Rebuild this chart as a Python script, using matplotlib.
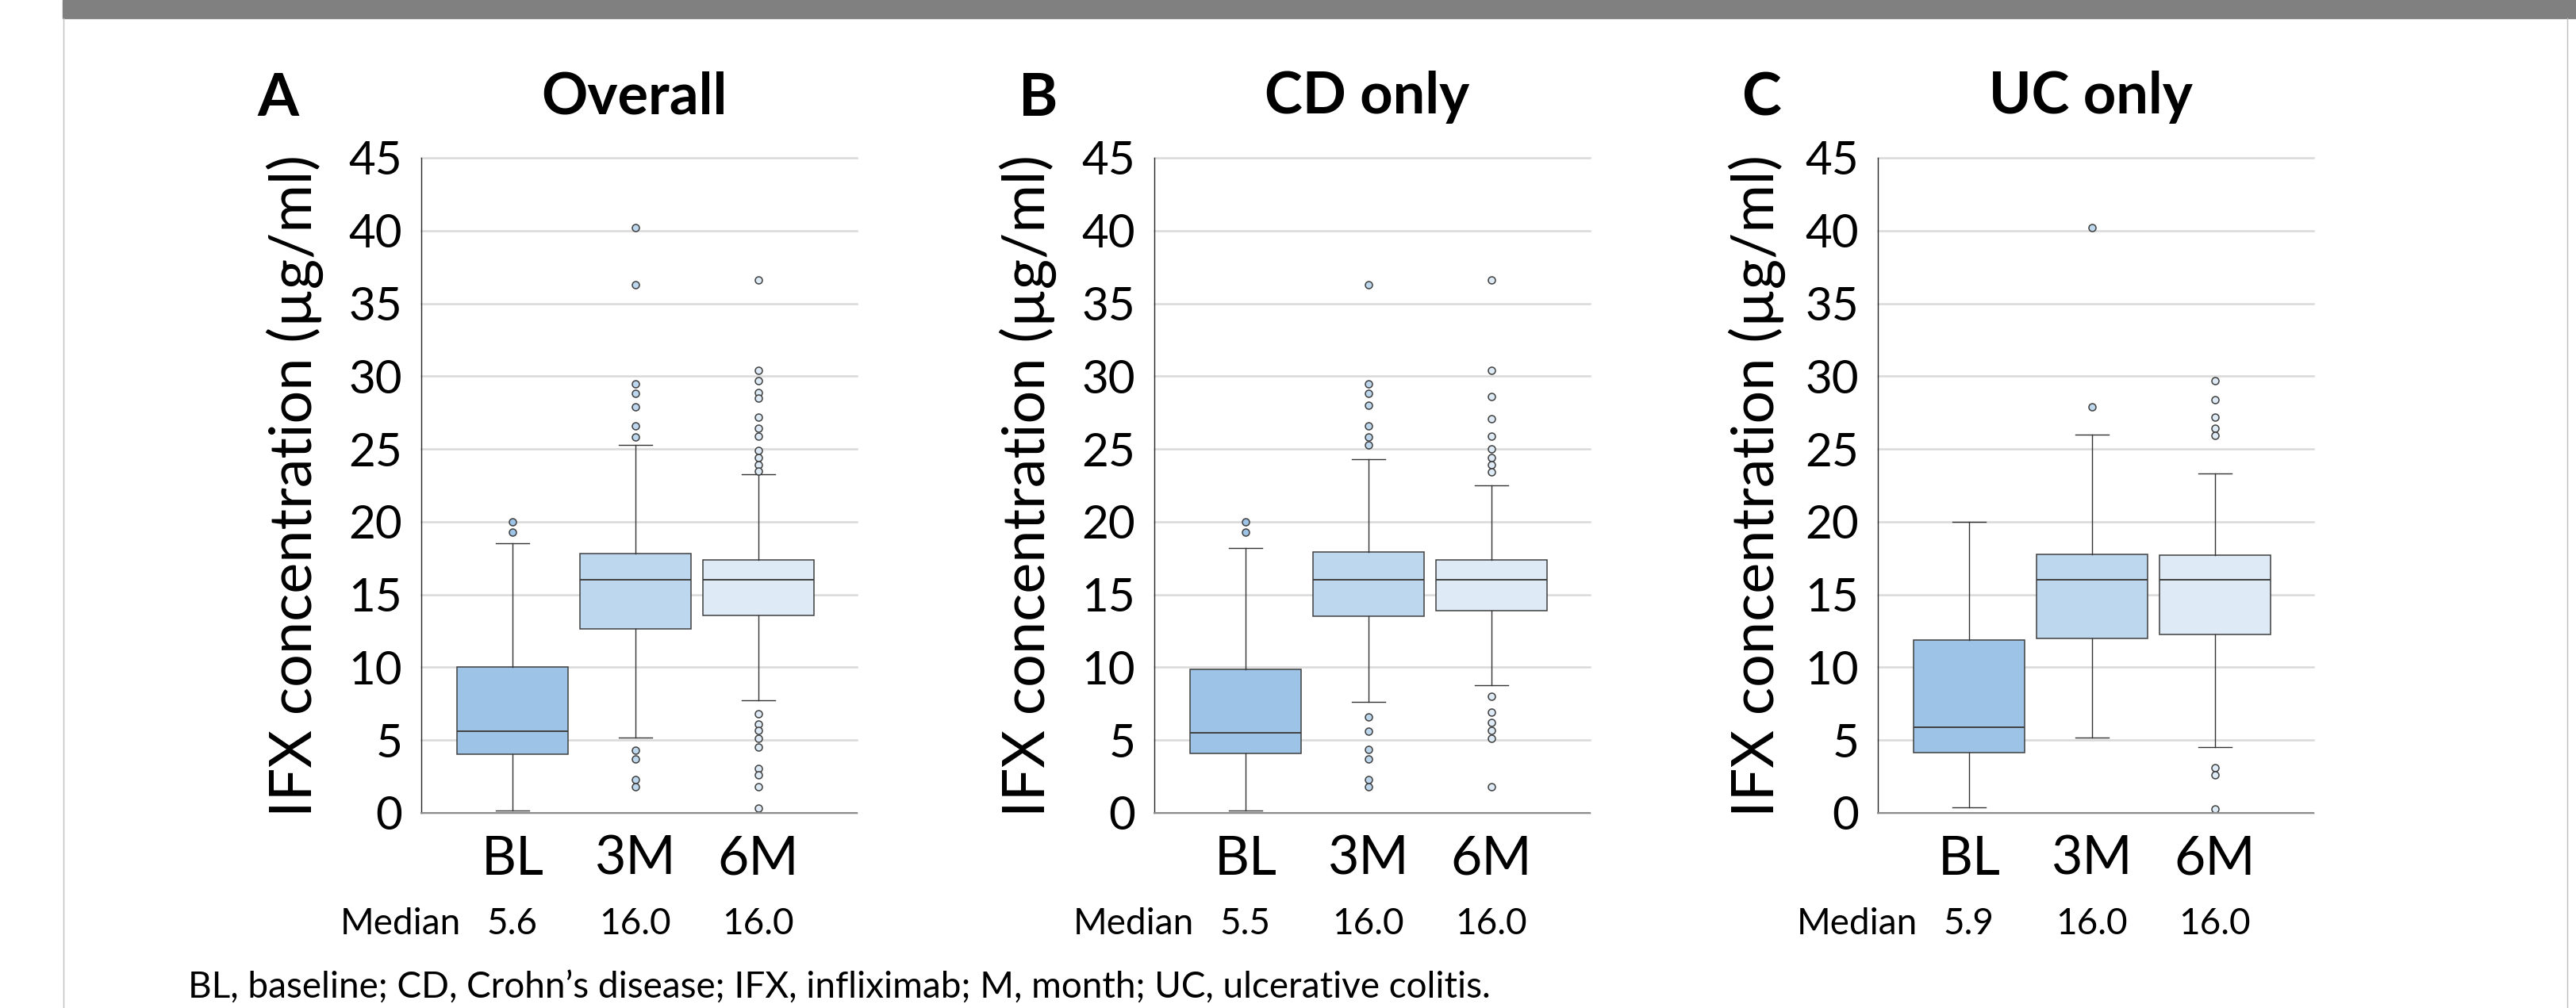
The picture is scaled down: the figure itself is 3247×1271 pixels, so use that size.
import matplotlib
matplotlib.use('Agg')
import matplotlib.pyplot as plt
from matplotlib.transforms import blended_transform_factory
from matplotlib.patches import Rectangle
from matplotlib.lines import Line2D

plt.rcParams['font.family'] = ['Lato', 'DejaVu Sans']

# ---------------- data ----------------
categories = ['BL', '3M', '6M']
panel_titles = ['Overall', 'CD only', 'UC only']
panel_letters = ['A', 'B', 'C']
box_colors = ['#9DC3E6', '#BDD7EE', '#DEEBF7']

# Overall
overall_q1 = [4.05, 12.65, 13.55]
overall_med = [5.6, 16.0, 16.0]
overall_q3 = [10.0, 17.8, 17.4]
overall_wlo = [0.15, 5.15, 7.75]
overall_whi = [18.5, 25.3, 23.25]
overall_fl_bl = [20.0, 19.3]
overall_fl_3m = [40.2, 36.3, 29.5, 28.8, 27.9, 26.6, 25.8, 4.3, 3.7, 2.3, 1.8]
overall_fl_6m = [36.6, 30.4, 29.7, 28.9, 28.5, 27.2, 26.4, 25.9, 24.9, 24.4, 23.9, 23.5,
                 6.8, 6.1, 5.65, 5.1, 4.5, 3.05, 2.6, 1.8, 0.3]

# CD only
cd_q1 = [4.07, 13.5, 13.9]
cd_med = [5.5, 16.0, 16.0]
cd_q3 = [9.85, 17.9, 17.4]
cd_wlo = [0.15, 7.6, 8.75]
cd_whi = [18.2, 24.3, 22.5]
cd_fl_bl = [20.0, 19.3]
cd_fl_3m = [36.3, 29.5, 28.8, 28.0, 26.6, 25.8, 25.3, 6.6, 5.6, 4.35, 3.7, 2.3, 1.8]
cd_fl_6m = [36.6, 30.4, 28.6, 27.1, 25.9, 25.0, 24.4, 23.9, 23.4, 8.0, 6.9, 6.2, 5.65, 5.1, 1.8]

# UC only
uc_q1 = [4.15, 12.0, 12.25]
uc_med = [5.9, 16.0, 16.0]
uc_q3 = [11.85, 17.75, 17.7]
uc_wlo = [0.4, 5.2, 4.5]
uc_whi = [20.0, 26.0, 23.3]
uc_fl_bl = []
uc_fl_3m = [40.2, 27.9]
uc_fl_6m = [29.7, 28.4, 27.2, 26.4, 25.95, 3.1, 2.6, 0.25]

y_ticks = [0, 5, 10, 15, 20, 25, 30, 35, 40, 45]
y_label = 'IFX concentration (µg/ml)'
median_word = 'Median'
footnote = 'BL, baseline; CD, Crohn\u2019s disease; IFX, infliximab; M, month; UC, ulcerative colitis.'

panels = [
    (overall_q1, overall_med, overall_q3, overall_wlo, overall_whi,
     [overall_fl_bl, overall_fl_3m, overall_fl_6m]),
    (cd_q1, cd_med, cd_q3, cd_wlo, cd_whi, [cd_fl_bl, cd_fl_3m, cd_fl_6m]),
    (uc_q1, uc_med, uc_q3, uc_wlo, uc_whi, [uc_fl_bl, uc_fl_3m, uc_fl_6m]),
]

# ---------------- layout ----------------
W, H = 3247, 1271
fig = plt.figure(figsize=(W / 100, H / 100), dpi=100)


def fx(px):
    return px / W


def fy(py):
    return 1 - py / H


# frame decorations
fig.patches.append(Rectangle((fx(79), fy(23)), 1 - fx(79), 23 / H,
                             transform=fig.transFigure, color='#808080', zorder=0))
fig.lines.append(Line2D([fx(80), fx(80)], [0, fy(23)], transform=fig.transFigure,
                        color='#BFBFBF', lw=1))
fig.lines.append(Line2D([fx(3236), fx(3236)], [0, fy(23)], transform=fig.transFigure,
                        color='#BFBFBF', lw=1))

ax_lefts = [531, 1455, 2367]
ax_w = 549
ax_top, ax_bot = 199, 1025
letter_x = [324, 1284, 2195]
ylabel_x = [-0.224, -0.224, -0.212]
edge = '#404040'

for i, (q1, med, q3, wlo, whi, fls) in enumerate(panels):
    ax = fig.add_axes([fx(ax_lefts[i]), fy(ax_bot), ax_w / W, (ax_bot - ax_top) / H])
    stats = []
    for k, cat in enumerate(categories):
        stats.append(dict(label=cat, med=med[k], q1=q1[k], q3=q3[k],
                          whislo=wlo[k], whishi=whi[k], fliers=fls[k]))
    bp = ax.bxp(stats, positions=[0, 1, 2], widths=0.9, patch_artist=True,
                capwidths=0.27,
                boxprops=dict(edgecolor=edge, linewidth=1.1),
                medianprops=dict(color=edge, linewidth=1.4),
                whiskerprops=dict(color='#333333', linewidth=1.0),
                capprops=dict(color='#333333', linewidth=1.0),
                flierprops=dict(marker='o', markersize=6.5, markeredgecolor=edge,
                                markeredgewidth=1.1, linestyle='none'))
    for patch, c in zip(bp['boxes'], box_colors):
        patch.set_facecolor(c)
    for fl, c in zip(bp['fliers'], box_colors):
        fl.set_markerfacecolor(c)
        fl.set_clip_on(False)

    ax.set_xlim(-0.74, 2.8)
    ax.set_ylim(0, 45)
    ax.set_yticks(y_ticks)
    ax.set_xticks([0, 1, 2])
    ax.set_xticklabels(categories)
    ax.grid(axis='y', color='#D9D9D9', linewidth=1.8)
    ax.set_axisbelow(True)
    for gl in ax.get_ygridlines():
        gl.set_clip_on(False)
    for s in ['top', 'right']:
        ax.spines[s].set_visible(False)
    ax.spines['left'].set_color('#262626')
    ax.spines['left'].set_linewidth(1.0)
    ax.spines['bottom'].set_color('#8C8C8C')
    ax.spines['bottom'].set_linewidth(1.5)
    ax.tick_params(axis='y', length=0, labelsize=42, pad=17)
    ax.tick_params(axis='x', length=0, labelsize=49, pad=20)
    ax.set_ylabel(y_label, fontsize=53)
    ax.yaxis.set_label_coords(ylabel_x[i], 0.5)

    # titles and panel letters
    cx = fx(ax_lefts[i] + ax_w / 2 - 6)
    fig.text(cx, fy(143), panel_titles[i], ha='center', va='baseline',
             fontsize=52, fontweight='bold')
    fig.text(fx(letter_x[i]), fy(146), panel_letters[i], ha='left', va='baseline',
             fontsize=54, fontweight='bold')

    # median row
    trans = blended_transform_factory(ax.transData, fig.transFigure)
    ax.text(-0.42, fy(1178), median_word, transform=trans, ha='right',
            va='baseline', fontsize=33, clip_on=False)
    for k in range(len(categories)):
        ax.text(k, fy(1178), f'{med[k]:.1f}', transform=trans, ha='center',
                va='baseline', fontsize=33, clip_on=False)

fig.text(fx(237), fy(1258), footnote, ha='left', va='baseline', fontsize=33)

fig.savefig('out.png', dpi=100)
